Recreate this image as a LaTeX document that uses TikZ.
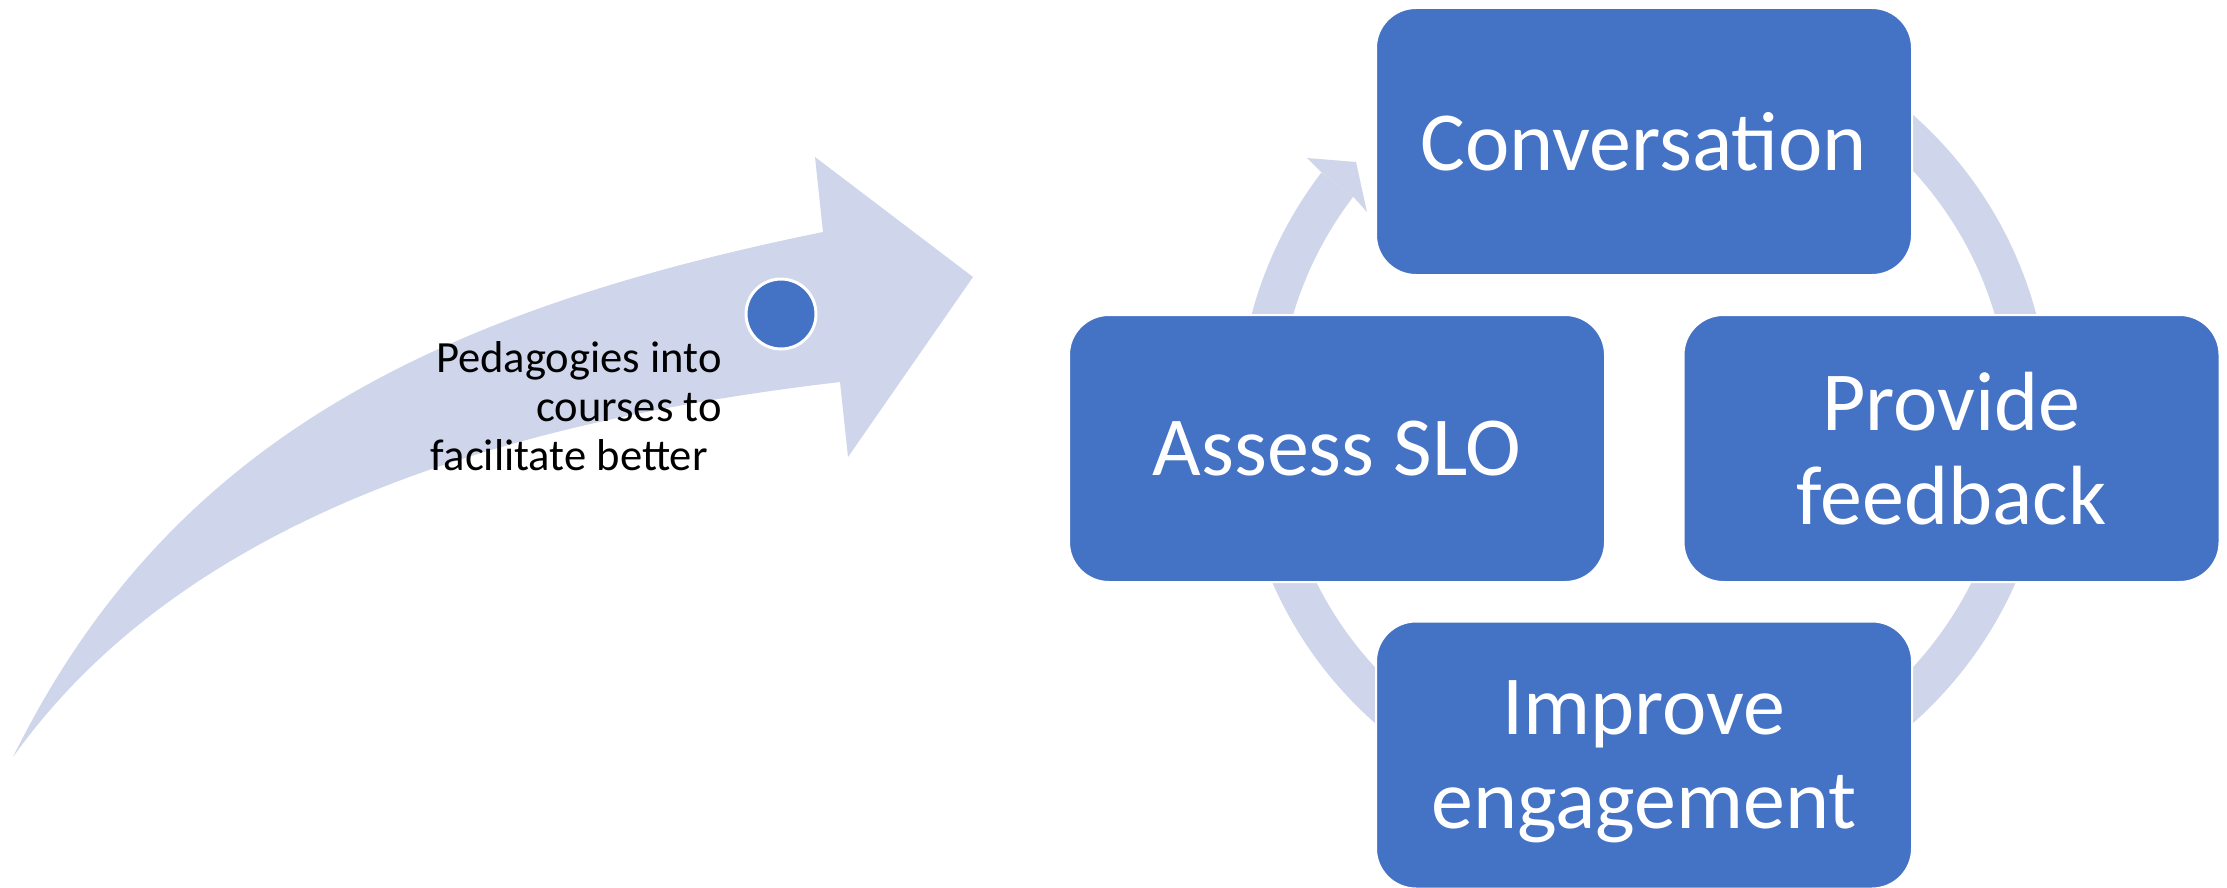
\documentclass[tikz,border=0pt]{standalone}
\usepackage{fontspec}
\setmainfont{Carlito}
\usetikzlibrary{calc}
\definecolor{boxblue}{HTML}{4472C4}
\definecolor{palearrow}{HTML}{CFD5EA}

\begin{document}
\begin{tikzpicture}[x=0.5pt,y=-0.5pt,
  cyclebox/.style={fill=boxblue,draw=white,line width=1pt,rounded corners=20pt,
    minimum width=268pt,minimum height=133.5pt,inner sep=0pt,text=white,align=center,
    font=\fontsize{42}{47}\selectfont}]
\useasboundingbox (0,0) rectangle (2227,888);
% big curved arrow
\fill[palearrow] (13,757) .. controls (168,443) and (431,312) .. (823,232) -- (815,157)
  -- (973,277) -- (848,457) -- (840,382) .. controls (560,415) and (200,495) .. cycle;
\node[circle,fill=boxblue,draw=white,line width=1.5pt,minimum size=35pt,inner sep=0pt] (dot) at (781,314) {};
\node[anchor=east,align=right,inner sep=0pt,font=\fontsize{22.3}{24.5}\selectfont] (pedlabel) at (722,406)
  {Pedagogies into\\courses to\\facilitate better\hspace*{7pt}};
% cycle ring and its arrow head
\coordinate (ring) at (1644,419);
\draw[palearrow,line width=20pt] ($(ring)+(-142.6:386)$) arc[start angle=-142.6,end angle=-460,radius=386];
\fill[palearrow] ($(ring)+(-142.6:406)$) -- (1307,158) -- (1356,162) -- (1367,212) -- ($(ring)+(-142.6:366)$) -- cycle;
% boxes
\node[cyclebox] (conv) at (1644,141.5) {Conversation};
\node[cyclebox] (assess) at (1337,448.5) {Assess SLO};
\node[cyclebox] (feedback) at (1951.5,448.5) {Provide\\feedback};
\node[cyclebox,text depth=0pt] (engage) at (1644,755) {Improve\\engagement};
\end{tikzpicture}
\end{document}
